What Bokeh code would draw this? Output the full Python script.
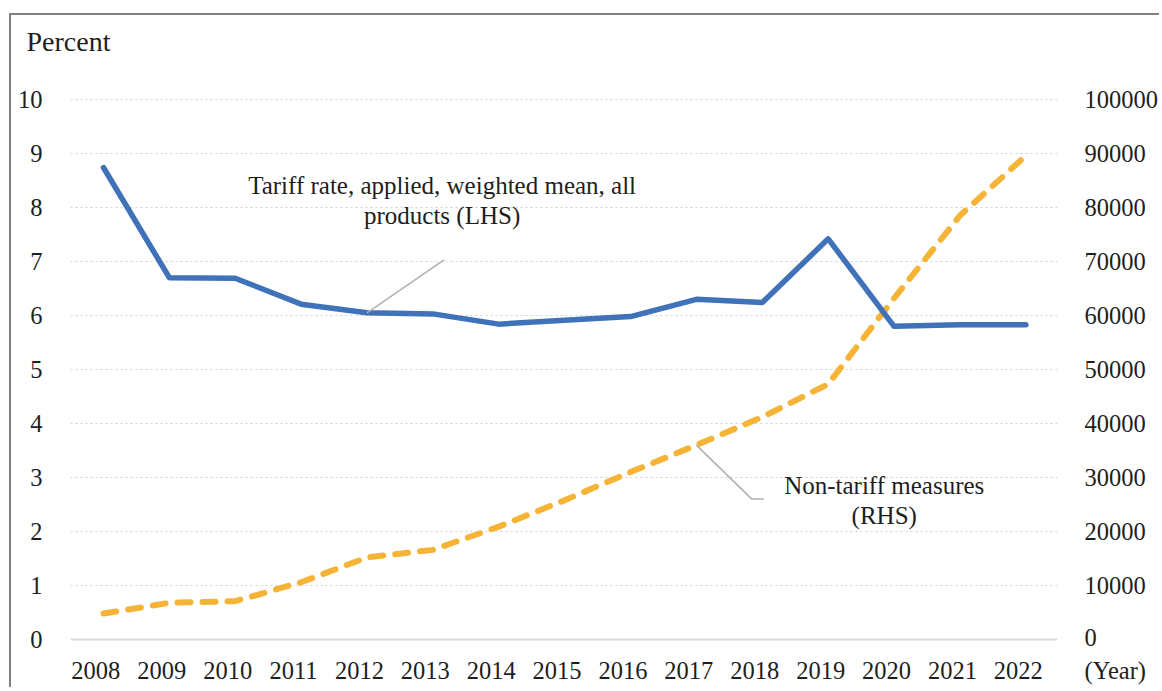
from bokeh.plotting import figure
from bokeh.models import Range1d, LinearAxis, FixedTicker, Label, BasicTickFormatter, Title, Span
from bokeh.embed import file_html
from bokeh.resources import INLINE

years = [2008, 2009, 2010, 2011, 2012, 2013, 2014, 2015, 2016, 2017, 2018, 2019, 2020, 2021, 2022]
tariff = [8.74, 6.70, 6.69, 6.21, 6.05, 6.03, 5.84, 5.91, 5.98, 6.30, 6.24, 7.42, 5.80, 5.83, 5.83]
ntm = [4800, 6800, 7100, 10600, 15200, 16600, 20900, 25800, 31000, 36000, 41200, 47300, 63200, 78500, 89600]
left_ticks = [0, 1, 2, 3, 4, 5, 6, 7, 8, 9, 10]
right_ticks = [10000, 20000, 30000, 40000, 50000, 60000, 70000, 80000, 90000, 100000]
year_unit = "(Year)"
left_unit = "Percent"

FONT = "Liberation Serif"
TXT = "#1e1e1e"
TICK_SIZE = "24.5px"

p = figure(width=1150, height=674,
           x_range=Range1d(2007.5, 2022.48), y_range=Range1d(-0.296, 10.685),
           output_backend="svg", toolbar_location=None,
           min_border_left=59, min_border_right=95, min_border_top=47, min_border_bottom=34)
p.extra_y_ranges = {"ntm": Range1d(-2963, 106850)}
# category labels sit slightly left of the plotted points, as in the original
p.extra_x_ranges = {"lab": Range1d(2007.615, 2022.595)}
p.outline_line_color = None
p.styles = {"margin-left": "9px", "margin-top": "13px",
            "border-left": "2px solid #808080", "border-top": "2px solid #808080"}

# unit label above the left axis
p.add_layout(Title(text=left_unit, align="left", offset=-44, standoff=11,
                   text_font=FONT, text_font_size="28px", text_font_style="normal",
                   text_color=TXT), "above")

# left axis
ya = p.yaxis[0]
ya.ticker = FixedTicker(ticks=left_ticks)
ya.axis_line_color = None
ya.major_tick_line_color = None
ya.minor_tick_line_color = None
ya.major_label_text_font = FONT
ya.major_label_text_font_size = TICK_SIZE
ya.major_label_text_color = TXT
ya.major_label_standoff = 22

# right axis; its zero tick carries the "(Year)" unit on a second line
zero_tick = -2685
ra = LinearAxis(y_range_name="ntm", ticker=FixedTicker(ticks=[zero_tick] + right_ticks),
                formatter=BasicTickFormatter(use_scientific=False))
ra.major_label_overrides = {zero_tick: "0\n" + year_unit}
ra.axis_line_color = None
ra.major_tick_line_color = None
ra.minor_tick_line_color = None
ra.major_label_text_font = FONT
ra.major_label_text_font_size = TICK_SIZE
ra.major_label_text_color = TXT
ra.major_label_standoff = 21
p.add_layout(ra, "right")

# bottom axis (replace the default one with one on the label range)
p.below = []
xa = LinearAxis(x_range_name="lab", ticker=FixedTicker(ticks=years))
xa.axis_line_color = None
xa.major_tick_line_color = None
xa.minor_tick_line_color = None
xa.major_label_text_font = FONT
xa.major_label_text_font_size = TICK_SIZE
xa.major_label_text_color = TXT
xa.major_label_standoff = 0
p.add_layout(xa, "below")

p.xgrid.grid_line_color = None
p.ygrid.ticker = FixedTicker(ticks=left_ticks[1:])
p.ygrid.grid_line_color = "#cfcfcf"
p.ygrid.grid_line_dash = "2 3"
p.ygrid.grid_line_width = 1.2
p.add_layout(Span(location=left_ticks[0], dimension="width", line_color="#d9d9d9", line_width=2))

# series
p.line(years, ntm, y_range_name="ntm", line_color="#F6B436", line_width=6,
       line_dash="13 12", line_cap="round", line_join="round")
p.line(years, tariff, line_color="#3F72B9", line_width=5.5, line_join="round", line_cap="round")

# leader lines (anchored to data points)
ax0, ay0 = years[4], tariff[4]
p.line([ax0, ax0 + 1.17], [ay0, ay0 + 0.98], line_color="#b0b0b0", line_width=1.5)
bx0, by0 = years[9], ntm[9] / 10000
p.line([bx0, bx0 + 0.84, bx0 + 1.02], [by0, by0 - 1.0, by0 - 1.0], line_color="#b0b0b0", line_width=1.5)

def lab(x, y, t, size="25px", align="center"):
    p.add_layout(Label(x=x, y=y, text=t, text_font=FONT, text_font_size=size,
                       text_color=TXT, text_align=align, text_baseline="middle"))

lab(2013.14, 8.41, "Tariff rate, applied, weighted mean, all")
lab(2013.14, 7.85, "products (LHS)")
lab(2019.85, 2.85, "Non-tariff measures")
lab(2019.85, 2.30, "(RHS)")

open("out.html", "w").write(file_html(p, INLINE))
